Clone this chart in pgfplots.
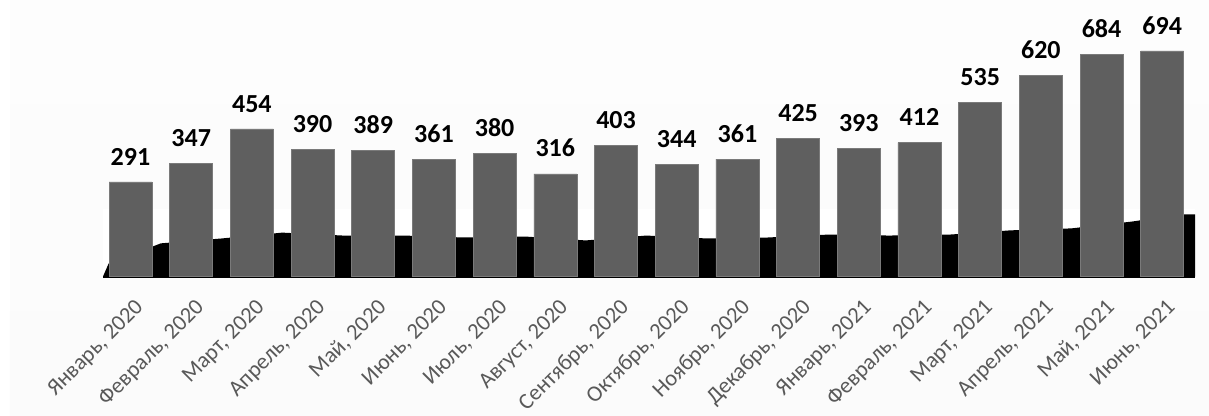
\documentclass[border=0pt]{standalone}
\usepackage{fontspec}
\setmainfont{Carlito}
\usepackage{pgfplots}
\pgfplotsset{compat=1.18}
\definecolor{barfill}{HTML}{5F5F5F}
\definecolor{baredge}{HTML}{7A7A7A}
\definecolor{ticktext}{HTML}{595959}
\definecolor{bgmid}{HTML}{D8D8D8}
\definecolor{bgtop}{HTML}{FDFDFD}
\definecolor{bgbot}{HTML}{FBFBFB}
\begin{document}
\begin{tikzpicture}[x=1pt,y=1pt]
\shade[top color=bgtop, middle color=bgmid, bottom color=bgbot] (-93,-138.5) rectangle (1106,276.5);
\begin{axis}[
  at={(0pt,0pt)}, anchor=south west,
  scale only axis, width=1092pt, height=276.25pt,
  xmin=-0.453, xmax=17.54, ymin=0, ymax=850,
  axis line style={draw=none}, tick style={draw=none},
  ytick=\empty,
  xtick={0,...,17},
  xticklabels={{Январь, 2020},{Февраль, 2020},{Март, 2020},{Апрель, 2020},{Май, 2020},{Июнь, 2020},{Июль, 2020},{Август, 2020},{Сентябрь, 2020},{Октябрь, 2020},{Ноябрь, 2020},{Декабрь, 2020},{Январь, 2021},{Февраль, 2021},{Март, 2021},{Апрель, 2021},{Май, 2021},{Июнь, 2021}},
  xticklabel style={xshift=12pt, yshift=-25.5pt, rotate=45, anchor=east, font=\fontsize{22.5}{22.5}\selectfont, text=ticktext},
  /pgf/number format/assume math mode=true,
  clip=false,
]
\addplot[fill=white, draw=none] coordinates {(-0.453,209) (17.54,209)} \closedcycle;
\addplot[fill=black, draw=none] coordinates {(-0.453,0) (-0.36,40) (0.5,102) (1.5,117) (2.5,135) (3.5,126) (4.5,126) (5.5,120) (6.5,123) (7.5,111) (8.5,126) (9.5,117) (10.5,120) (11.5,129) (12.5,126) (13.5,129) (14.5,142) (15.5,148) (16.5,169) (17.3,191) (17.54,191)} \closedcycle;
\addplot[black, line width=2pt] coordinates {(-0.453,0) (17.54,0)};
\addplot[ybar, bar width=0.708, fill=barfill, draw=baredge, line width=0.6pt,
  nodes near coords,
  nodes near coords style={font=\bfseries\fontsize{26}{26}\selectfont, text=black, anchor=south, yshift=13pt}]
  coordinates {(0,291) (1,347) (2,454) (3,390) (4,389) (5,361) (6,380) (7,316) (8,403) (9,344) (10,361) (11,425) (12,393) (13,412) (14,535) (15,620) (16,684) (17,694)};
\end{axis}
\pgfresetboundingbox
\useasboundingbox (-103,-138.5) rectangle (1106,276.5);
\end{tikzpicture}
\end{document}
